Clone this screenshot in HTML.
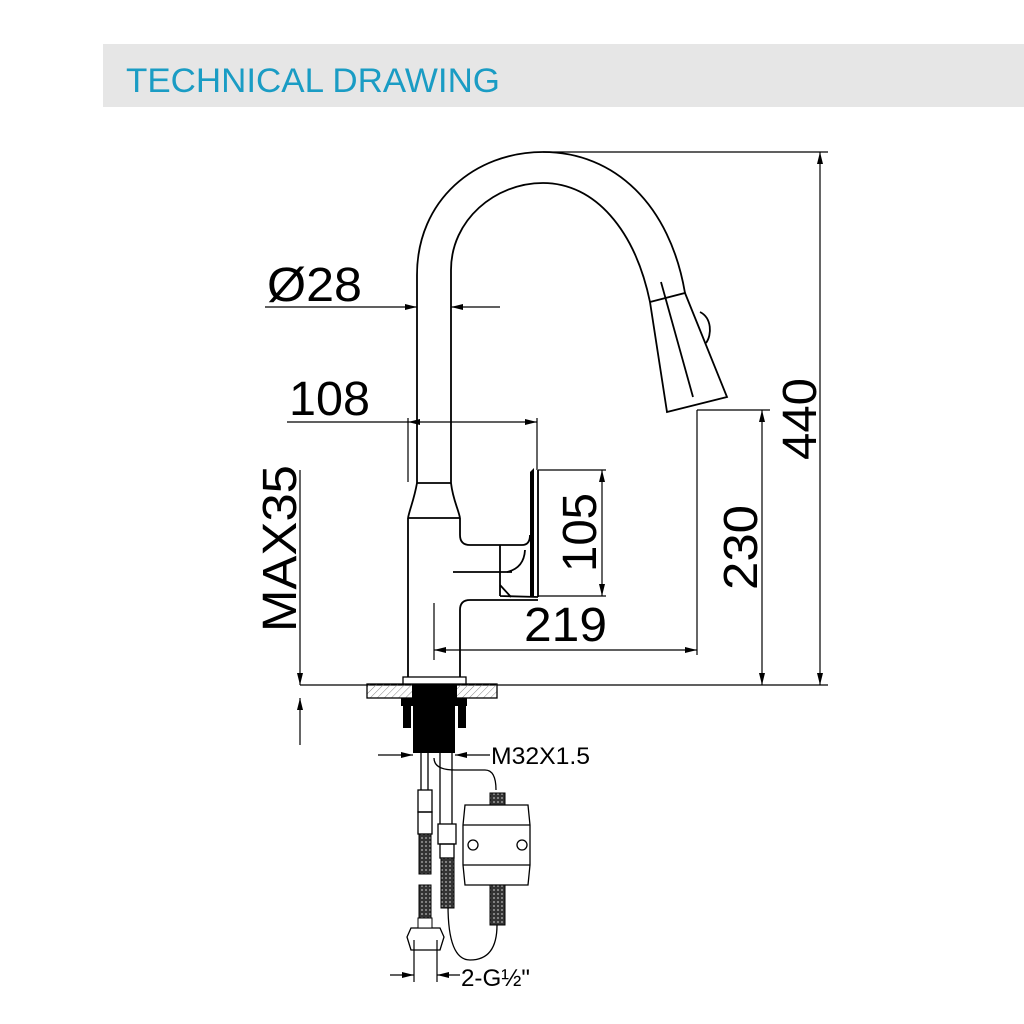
<!DOCTYPE html>
<html><head><meta charset="utf-8"><style>
html,body{margin:0;padding:0;background:#fff;}
svg{display:block;font-family:"Liberation Sans",Arial,sans-serif;}
</style></head><body>
<svg width="1024" height="1024" viewBox="0 0 1024 1024" xmlns="http://www.w3.org/2000/svg">
<defs>
<marker id="a" viewBox="0 0 12 6" refX="12" refY="3" markerWidth="12" markerHeight="6" orient="auto" markerUnits="userSpaceOnUse"><path d="M0,0 L12,3 L0,6 Z" fill="#000"/></marker>
<pattern id="h" width="5" height="5" patternUnits="userSpaceOnUse" patternTransform="rotate(45)"><line x1="0" y1="0" x2="0" y2="5" stroke="#888" stroke-width="1"/></pattern>
<pattern id="br" width="4" height="4" patternUnits="userSpaceOnUse"><rect width="4" height="4" fill="#333"/><circle cx="2" cy="2" r="1" fill="#999"/></pattern>
</defs>
<rect x="103" y="44" width="921" height="63" fill="#e6e6e6"/>
<text x="126" y="92" font-size="34" fill="#1a9cc4" textLength="374" lengthAdjust="spacingAndGlyphs">TECHNICAL DRAWING</text>

<g fill="none" stroke="#000" stroke-width="1.8">
<path d="M417,483 L417,275 C417,200 475,152 543,152 C615,152 670,205 685,293"/>
<path d="M451,483 L451,270 C451,220 495,183 543,183 C595,183 635,230 650,302"/>
<path d="M650,302 L685,293 L727,397 L667,412 Z"/>
<path d="M661,282 L693,397"/>
<path d="M700,312 C712,318 712,335 706,343"/>
<path d="M417,483 L451,483 M417,483 C414,500 410,508 408,518 M451,483 C453,500 458,508 460,518 M408,518 L460,518"/>
<path d="M408,518 L408,680 M460,518 L460,535 Q460,545 470,545 L522,545 Q530,545 530,535"/>
<path d="M538,470 L538,597 M500,545 L500,596 M500,596 L538,597"/>
<path d="M500,585 L511,597 M525,550 Q524,568 507,572"/>
<path d="M538,600 L470,600 Q460,600 460,610 L460,680"/>
<path d="M453,572 L512,572"/>
</g>
<path d="M530,472 L534,468 L534,596 L530,596 Z" fill="#000"/>

<g stroke="#000" stroke-width="1.2" fill="none">
<line x1="265" y1="307" x2="417" y2="307" marker-end="url(#a)"/>
<line x1="500" y1="307" x2="451" y2="307" marker-end="url(#a)"/>
<line x1="287" y1="422" x2="408" y2="422"/>
<line x1="470" y1="422" x2="408" y2="422" marker-end="url(#a)"/>
<line x1="470" y1="422" x2="537" y2="422" marker-end="url(#a)"/>
<line x1="408" y1="418" x2="408" y2="482"/>
<line x1="537" y1="418" x2="537" y2="470"/>
<line x1="538" y1="470" x2="606" y2="470"/>
<line x1="538" y1="596" x2="606" y2="596"/>
<line x1="602" y1="530" x2="602" y2="470" marker-end="url(#a)"/>
<line x1="602" y1="530" x2="602" y2="596" marker-end="url(#a)"/>
<line x1="434" y1="603" x2="434" y2="660"/>
<line x1="697" y1="410" x2="697" y2="655"/>
<line x1="565" y1="650" x2="434" y2="650" marker-end="url(#a)"/>
<line x1="565" y1="650" x2="697" y2="650" marker-end="url(#a)"/>
<line x1="697" y1="410" x2="770" y2="410"/>
<line x1="762" y1="550" x2="762" y2="410" marker-end="url(#a)"/>
<line x1="762" y1="550" x2="762" y2="685" marker-end="url(#a)"/>
<line x1="543" y1="152" x2="828" y2="152"/>
<line x1="820" y1="420" x2="820" y2="152" marker-end="url(#a)"/>
<line x1="820" y1="420" x2="820" y2="685" marker-end="url(#a)"/>
<line x1="300" y1="685" x2="828" y2="685"/>
<line x1="300" y1="470" x2="300" y2="685" marker-end="url(#a)"/>
<line x1="300" y1="745" x2="300" y2="698" marker-end="url(#a)"/>
<line x1="378" y1="755" x2="413" y2="755" marker-end="url(#a)"/>
<line x1="490" y1="755" x2="455" y2="755" marker-end="url(#a)"/>
<line x1="390" y1="975" x2="414" y2="975" marker-end="url(#a)"/>
<line x1="460" y1="975" x2="437" y2="975" marker-end="url(#a)"/>
<line x1="414" y1="940" x2="414" y2="982"/>
<line x1="437" y1="940" x2="437" y2="982"/>
</g>

<rect x="367" y="684" width="130" height="14" fill="url(#h)" stroke="#000" stroke-width="1.3"/>
<rect x="403" y="677" width="63" height="7" fill="#fff" stroke="#000" stroke-width="1.3"/>
<rect x="412" y="684" width="45" height="14" fill="#000"/>
<rect x="401" y="698" width="66" height="8" fill="#000"/>
<rect x="403" y="706" width="8" height="22" fill="#000"/>
<rect x="458" y="706" width="8" height="22" fill="#000"/>
<rect x="413" y="706" width="42" height="47" fill="#000"/>
<g fill="none" stroke="#000" stroke-width="1.3">
<path d="M421,753 L421,790 M428,753 L428,790 M440,753 L440,824 M452,753 L452,824"/>
<rect x="418" y="790" width="14" height="22"/>
<rect x="418" y="812" width="14" height="22"/>
<rect x="438" y="824" width="18" height="20"/>
<rect x="440" y="844" width="14" height="14"/>
<path d="M434,758 Q434,770 455,770 L485,770 Q496,770 496,790"/>
<path d="M465,805 L528,805 L530,825 L530,865 L528,885 L465,885 L463,865 L463,825 Z"/>
<path d="M463,825 L530,825 M463,865 L530,865"/>
<circle cx="473" cy="845" r="5"/><circle cx="522" cy="845" r="5"/>
<path d="M411,928 L440,928 L444,937 L440,950 L411,950 L407,937 Z"/>
<path d="M448,905 Q448,960 470,960 Q497,960 497,925"/>
</g>
<rect x="490" y="793" width="15" height="12" fill="url(#br)" stroke="#000"/>
<rect x="490" y="885" width="15" height="40" fill="url(#br)" stroke="#000"/>
<rect x="419" y="834" width="12" height="40" fill="url(#br)" stroke="#000"/>
<rect x="419" y="885" width="12" height="35" fill="url(#br)" stroke="#000"/>
<rect x="441" y="858" width="13" height="50" fill="url(#br)" stroke="#000"/>
<rect x="418" y="918" width="14" height="10" fill="#fff" stroke="#000"/>

<g font-size="48" fill="#000">
<text x="267" y="301" textLength="95" lengthAdjust="spacingAndGlyphs">Ø28</text>
<text x="289" y="415" textLength="81" lengthAdjust="spacingAndGlyphs">108</text>
<text x="524" y="641" textLength="83" lengthAdjust="spacingAndGlyphs">219</text>
<text transform="translate(596,572) rotate(-90)" textLength="79" lengthAdjust="spacingAndGlyphs">105</text>
<text transform="translate(757,590) rotate(-90)" textLength="85" lengthAdjust="spacingAndGlyphs">230</text>
<text transform="translate(816,460) rotate(-90)" textLength="82" lengthAdjust="spacingAndGlyphs">440</text>
<text transform="translate(296,632) rotate(-90)" textLength="167" lengthAdjust="spacingAndGlyphs">MAX35</text>
</g>
<text x="491" y="764" font-size="24" textLength="99" lengthAdjust="spacingAndGlyphs">M32X1.5</text>
<text x="461" y="986" font-size="24" textLength="69" lengthAdjust="spacingAndGlyphs">2-G½"</text>
</svg>
</body></html>
